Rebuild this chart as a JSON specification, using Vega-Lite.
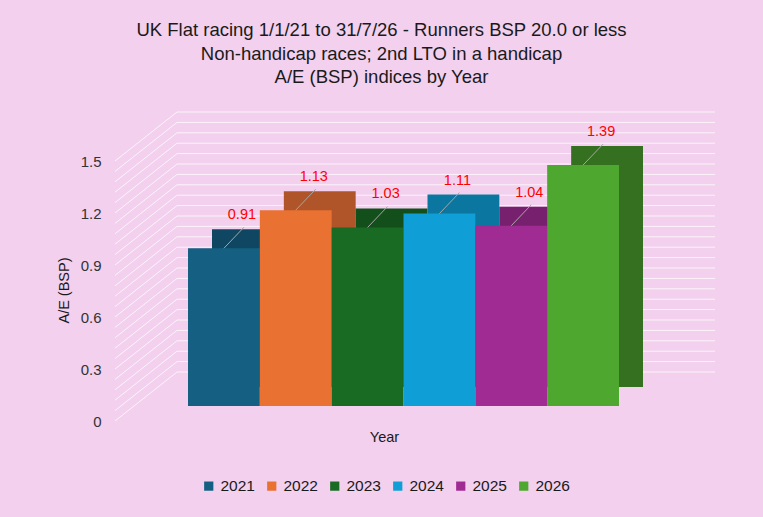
{
  "$schema": "https://vega.github.io/schema/vega-lite/v6.json",
  "autosize": "none",
  "padding": {"left": 177, "top": 146, "right": 48, "bottom": 111},
  "width": 538,
  "height": 260,
  "background": "#F2D0EE",
  "title": {
    "text": ["UK Flat racing 1/1/21 to 31/7/26 - Runners BSP 20.0 or less", "Non-handicap races; 2nd LTO in a handicap", "A/E (BSP) indices by Year"],
    "frame": "group",
    "anchor": "middle",
    "dx": -64.5,
    "offset": 25,
    "font": "Liberation Sans",
    "fontSize": 18.5,
    "fontWeight": "normal",
    "lineHeight": 23.5,
    "color": "#1a1a1a"
  },
  "datasets": {
    "years": [
      {"Year": "2021", "AE": 0.91},
      {"Year": "2022", "AE": 1.13},
      {"Year": "2023", "AE": 1.03},
      {"Year": "2024", "AE": 1.11},
      {"Year": "2025", "AE": 1.04},
      {"Year": "2026", "AE": 1.39}
    ],
    "grid": [
      {"g": 0}, {"g": 0.06}, {"g": 0.12}, {"g": 0.18}, {"g": 0.24}, {"g": 0.3},
      {"g": 0.36}, {"g": 0.42}, {"g": 0.48}, {"g": 0.54}, {"g": 0.6},
      {"g": 0.66}, {"g": 0.72}, {"g": 0.78}, {"g": 0.84}, {"g": 0.9},
      {"g": 0.96}, {"g": 1.02}, {"g": 1.08}, {"g": 1.14}, {"g": 1.2},
      {"g": 1.26}, {"g": 1.32}, {"g": 1.38}, {"g": 1.44}, {"g": 1.5}
    ]
  },
  "layer": [
    {
      "data": {"name": "grid"},
      "mark": {"type": "rule", "color": "#ffffff", "strokeWidth": 1, "opacity": 0.75, "yOffset": -34},
      "encoding": {
        "y": {"field": "g", "type": "quantitative", "scale": {"domain": [0, 1.5], "nice": false, "zero": true}}
      }
    },
    {
      "data": {"name": "grid"},
      "mark": {"type": "rule", "color": "#ffffff", "strokeWidth": 1, "opacity": 0.75,
               "xOffset": -73, "x2Offset": -11, "yOffset": 15, "y2Offset": -34},
      "encoding": {
        "x": {"datum": "2021", "type": "nominal", "bandPosition": 0},
        "x2": {"datum": "2021", "bandPosition": 0},
        "y": {"field": "g", "type": "quantitative", "scale": {"domain": [0, 1.5], "nice": false, "zero": true}},
        "y2": {"field": "g"}
      }
    },
    {
      "data": {"name": "years"},
      "layer": [
        {
          "mark": {"type": "bar", "xOffset": 24, "x2Offset": 24, "yOffset": -19, "y2Offset": -19},
          "encoding": {
            "x": {"field": "Year", "type": "nominal", "sort": null,
                  "scale": {"range": [11, 442], "paddingInner": 0, "paddingOuter": 0},
                  "axis": {"labels": false, "ticks": false, "domain": false, "title": "Year",
                           "titlePadding": 24, "titleX": 207, "titleFont": "Liberation Sans",
                           "titleFontSize": 14.5, "titleFontWeight": "normal", "titleColor": "#1a1a1a"}},
            "y": {"field": "AE", "type": "quantitative", "scale": {"domain": [0, 1.5], "nice": false, "zero": true},
                  "axis": {"values": [0, 0.3, 0.6, 0.9, 1.2, 1.5], "grid": false, "ticks": false, "domain": false,
                           "offset": 71, "labelPadding": 5, "labelOffset": 15,
                           "labelExpr": "datum.value == 0 ? '0' : format(datum.value, '.1f')",
                           "labelFont": "Liberation Sans", "labelFontSize": 15, "labelColor": "#333333",
                           "title": "A/E (BSP)", "titleFont": "Liberation Sans", "titleFontSize": 14.5,
                           "titleFontWeight": "normal", "titleColor": "#1a1a1a", "titlePadding": 9, "titleY": 144}},
            "color": {"field": "Year", "type": "nominal", "legend": null,
                      "scale": {"range": ["#0F4763", "#B0552A", "#124F1B", "#0B77A0", "#77206E", "#34701F"]}}
          }
        },
        {
          "mark": {"type": "bar"},
          "encoding": {
            "x": {"field": "Year", "type": "nominal", "sort": null},
            "y": {"field": "AE", "type": "quantitative", "scale": {"domain": [0, 1.5], "nice": false, "zero": true}},
            "color": {"field": "Year", "type": "nominal",
                      "scale": {"range": ["#156082", "#E97132", "#196B24", "#0F9ED5", "#A02B93", "#4EA72E"]},
                      "legend": {"orient": "none", "direction": "horizontal", "title": null,
                                 "legendX": 24, "legendY": 332, "symbolType": "square", "symbolSize": 85,
                                 "symbolStrokeWidth": 0, "labelFont": "Liberation Sans", "labelFontSize": 15.5,
                                 "labelColor": "#1a1a1a", "labelOffset": 4, "columnPadding": 9}}
          }
        },
        {
          "mark": {"type": "rule", "color": "#A6A6A6", "strokeWidth": 1, "x2Offset": 20, "y2Offset": -21},
          "encoding": {
            "x": {"field": "Year", "type": "nominal", "sort": null, "bandPosition": 0.5},
            "x2": {"field": "Year", "bandPosition": 0.5},
            "y": {"field": "AE", "type": "quantitative", "scale": {"domain": [0, 1.5], "nice": false, "zero": true}},
            "y2": {"field": "AE"}
          }
        },
        {
          "mark": {"type": "text", "color": "#FF0000", "font": "Liberation Sans", "fontSize": 14.5, "dx": 18, "dy": -33},
          "encoding": {
            "x": {"field": "Year", "type": "nominal", "sort": null, "bandPosition": 0.5},
            "y": {"field": "AE", "type": "quantitative", "scale": {"domain": [0, 1.5], "nice": false, "zero": true}},
            "text": {"field": "AE", "type": "quantitative", "format": ".2f"}
          }
        }
      ],
      "resolve": {"scale": {"color": "independent"}}
    }
  ],
  "config": {"view": {"stroke": null}}
}
